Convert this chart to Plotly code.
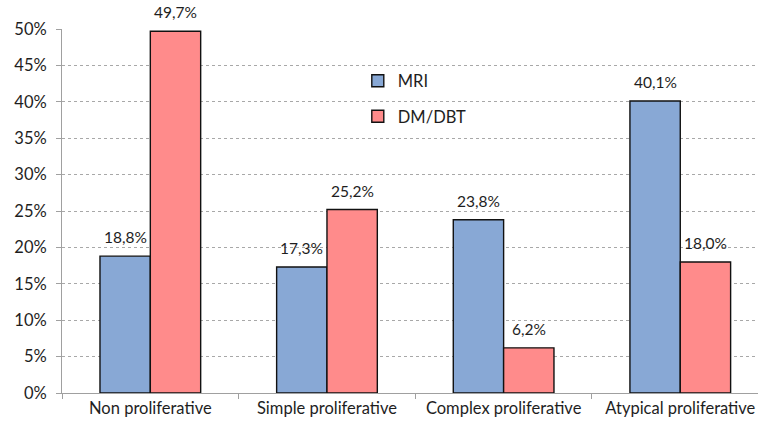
import plotly.graph_objects as go

categories = ["Non proliferative", "Simple proliferative", "Complex proliferative", "Atypical proliferative"]
mri = [18.8, 17.3, 23.8, 40.1]
dm_dbt = [49.7, 25.2, 6.2, 18.0]
y_ticks = [0, 5, 10, 15, 20, 25, 30, 35, 40, 45, 50]


def pct_labels(vals):
    return [f"{v:.1f}%".replace(".", ",") for v in vals]


FONT = "Lato, Open Sans, sans-serif"
TXT = "#1E1E1E"

W, H = 758, 424
ML, MR, MT, MB = 62, 0, 29, 31
X_RANGE = [-0.5, 3.44]
BARGAP = 0.43

fig = go.Figure()
fig.add_trace(go.Bar(
    x=categories, y=mri, name="MRI", legendgroup="a",
    marker=dict(color="#88A8D5", line=dict(color="#111111", width=1.4)),
))
fig.add_trace(go.Bar(
    x=categories, y=dm_dbt, name="DM/DBT", legendgroup="b",
    marker=dict(color="#FF8B8B", line=dict(color="#111111", width=1.4)),
))

# value labels above each bar, offset horizontally to the centre of each bar in its group
px_per_cat = (W - ML - MR) / (X_RANGE[1] - X_RANGE[0])
half_bar = px_per_cat * (1 - BARGAP) / 4
for series, sign in ((mri, -1), (dm_dbt, 1)):
    for cat, val, lab in zip(categories, series, pct_labels(series)):
        fig.add_annotation(
            x=cat, y=val, text=lab, showarrow=False,
            xanchor="center", yanchor="bottom",
            xshift=sign * half_bar, yshift=8,
            font=dict(size=15.5, color=TXT, family=FONT),
        )

fig.update_layout(
    width=W, height=H,
    margin=dict(l=ML, r=MR, t=MT, b=MB),
    paper_bgcolor="white", plot_bgcolor="white",
    barmode="group", bargap=BARGAP, bargroupgap=0,
    font=dict(family=FONT, size=16, color=TXT),
    showlegend=True,
    legend=dict(x=0.425, y=0.905, xanchor="left", yanchor="top",
                font=dict(size=16.5, family=FONT, color=TXT),
                bgcolor="rgba(0,0,0,0)", tracegroupgap=11,
                traceorder="grouped", itemwidth=30),
)
fig.update_xaxes(
    range=X_RANGE, showgrid=False,
    showline=True, linecolor="#A0A0A0", linewidth=1,
    ticks="outside", tickson="boundaries", ticklen=5, tickcolor="#A0A0A0",
    tickfont=dict(size=16.5, family=FONT, color=TXT),
)
fig.update_yaxes(
    range=[0, 50], tickvals=y_ticks, ticktext=[f"{t}%" for t in y_ticks],
    showgrid=True, gridcolor="#A8A8A8", griddash="dot", gridwidth=1,
    showline=True, linecolor="#A0A0A0", linewidth=1,
    ticks="outside", ticklen=5, tickcolor="#A0A0A0",
    ticklabelstandoff=6,
    tickfont=dict(size=16.5, family=FONT, color=TXT),
    zeroline=False,
)

fig.write_html("out.html")
